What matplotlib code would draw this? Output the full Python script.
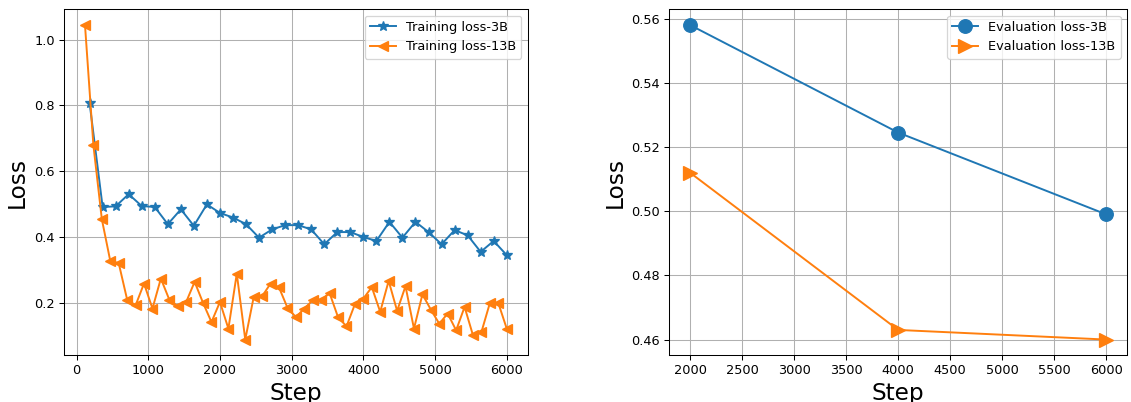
import matplotlib
matplotlib.use("Agg")
import matplotlib.pyplot as plt

# training loss, 3B model (33 logged steps)
steps_3b = [182, 364, 545, 727, 909, 1091, 1273, 1455, 1636, 1818, 2000,
            2182, 2364, 2545, 2727, 2909, 3091, 3273, 3455, 3636, 3818,
            4000, 4182, 4364, 4545, 4727, 4909, 5091, 5273, 5455, 5636,
            5818, 6000]
train_3b = [0.808, 0.492, 0.494, 0.531, 0.495, 0.492, 0.440, 0.485, 0.435,
            0.500, 0.474, 0.460, 0.440, 0.399, 0.424, 0.437, 0.437, 0.424,
            0.379, 0.416, 0.416, 0.401, 0.389, 0.447, 0.399, 0.447, 0.416,
            0.379, 0.422, 0.406, 0.356, 0.389, 0.346]

# training loss, 13B model (51 logged steps)
steps_13b = [118, 235, 353, 471, 588, 706, 824, 941, 1059, 1176, 1294,
             1412, 1529, 1647, 1765, 1882, 2000, 2118, 2235, 2353, 2471,
             2588, 2706, 2824, 2941, 3059, 3176, 3294, 3412, 3529, 3647,
             3765, 3882, 4000, 4118, 4235, 4353, 4471, 4588, 4706, 4824,
             4941, 5059, 5176, 5294, 5412, 5529, 5647, 5765, 5882, 6000]
train_13b = [1.044, 0.680, 0.455, 0.328, 0.322, 0.211, 0.194, 0.260, 0.184,
             0.275, 0.211, 0.191, 0.204, 0.265, 0.201, 0.143, 0.204, 0.123,
             0.290, 0.090, 0.219, 0.221, 0.260, 0.248, 0.187, 0.158, 0.184,
             0.209, 0.209, 0.231, 0.158, 0.130, 0.197, 0.214, 0.249, 0.174,
             0.268, 0.177, 0.252, 0.123, 0.227, 0.181, 0.138, 0.169, 0.118,
             0.189, 0.103, 0.113, 0.201, 0.201, 0.123]

# evaluation loss
eval_steps = [2000, 4000, 6000]
eval_3b = [0.558, 0.5245, 0.499]
eval_13b = [0.512, 0.463, 0.460]

DPI = 93


def main():
    fig = plt.figure(figsize=(1131 / DPI, 402 / DPI), dpi=DPI)
    ax1 = fig.add_axes([0.0565, 0.1162, 0.4102, 0.8607])
    ax2 = fig.add_axes([0.5917, 0.1162, 0.4048, 0.8607])

    ax1.plot(steps_3b, train_3b, marker="*", markersize=8.5,
             label="Training loss-3B")
    ax1.plot(steps_13b, train_13b, marker="<", markersize=8.5,
             label="Training loss-13B")
    ax1.set_xlabel("Step", fontsize=18)
    ax1.set_ylabel("Loss", fontsize=18)
    ax1.grid()
    ax1.legend(loc="upper right")

    ax2.plot(eval_steps, eval_3b, marker="o", markersize=10.5,
             label="Evaluation loss-3B")
    ax2.plot(eval_steps, eval_13b, marker=">", markersize=10.5,
             label="Evaluation loss-13B")
    ax2.set_xlabel("Step", fontsize=18)
    ax2.set_ylabel("Loss", fontsize=18)
    ax2.grid()
    ax2.legend(loc="upper right")

    fig.savefig("out.png", dpi=DPI)


if __name__ == "__main__":
    main()
